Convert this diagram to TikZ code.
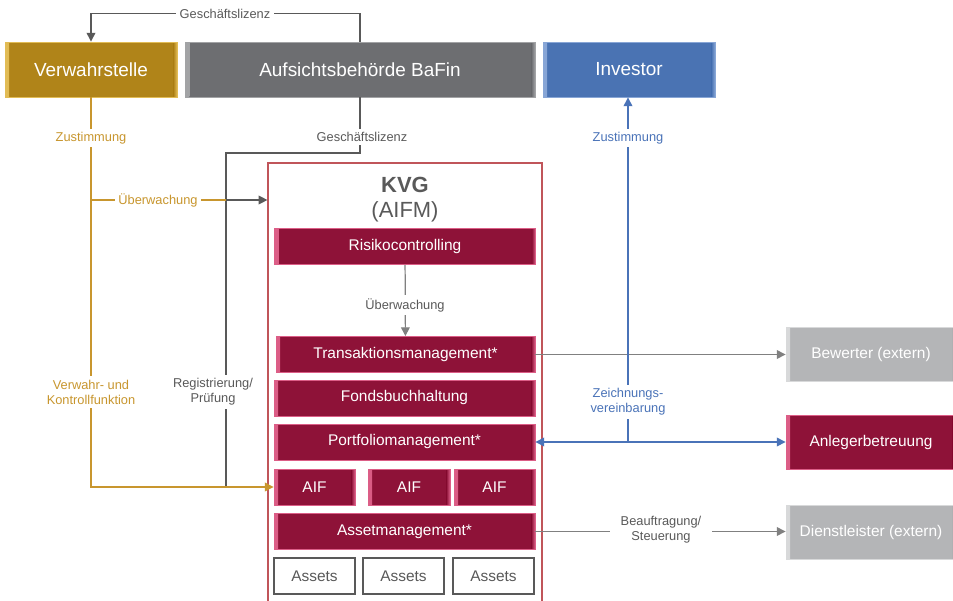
\documentclass[tikz,border=0pt]{standalone}
\usepackage{fontspec}
\setmainfont{Liberation Sans}
\usetikzlibrary{arrows.meta,calc,positioning}
\definecolor{vwgold}{HTML}{B08419}
\definecolor{vwgoldedge}{HTML}{E2BC55}
\definecolor{bafingray}{HTML}{6D6E71}
\definecolor{bafingrayedge}{HTML}{A2A3A5}
\definecolor{invblue}{HTML}{4A73B3}
\definecolor{invblueedge}{HTML}{88A6D6}
\definecolor{kvgred}{HTML}{8E1238}
\definecolor{kvgrededge}{HTML}{DC5E87}
\definecolor{extgray}{HTML}{B4B5B7}
\definecolor{extgrayedge}{HTML}{D8D9DA}
\definecolor{framered}{HTML}{C0555A}
\definecolor{goldtxt}{HTML}{C8962E}
\definecolor{darktxt}{HTML}{595959}
\definecolor{linegray}{HTML}{808080}
\definecolor{lineblue}{HTML}{4A73B8}
\tikzset{
  bevel/.style 2 args={fill=#1,draw=#2,line width=0.5pt,text=white,inner sep=0pt,
    path picture={
      \fill[left color=#2,right color=#1] (path picture bounding box.north west) rectangle ([xshift=2.4pt]path picture bounding box.south west);
      \fill[left color=#1,right color=#2] ([xshift=-2pt]path picture bounding box.north east) rectangle (path picture bounding box.south east);
    }},
  topbox/.style={bevel={#1}{#1edge},minimum height=1.1cm,font=\fontsize{10.8}{12}\selectfont},
  unitbox/.style={bevel={kvgred}{kvgrededge},minimum width=5.22cm,minimum height=0.72cm,font=\fontsize{8.8}{10}\selectfont},
  extbox/.style={bevel={#1}{#1edge},minimum width=3.4cm,minimum height=1.08cm,font=\fontsize{8.8}{10}\selectfont},
  assetbox/.style={draw=darktxt,line width=0.6pt,minimum width=1.62cm,minimum height=0.72cm,font=\fontsize{8.8}{10}\selectfont,text=darktxt},
  lbl/.style={fill=white,align=center,inner sep=2pt,font=\fontsize{7.3}{8.6}\selectfont,text=darktxt},
  goldline/.style={draw=goldtxt,line width=0.7pt},
  darkline/.style={draw=darktxt,line width=0.7pt},
  grayline/.style={draw=linegray,line width=0.7pt},
  blueline/.style={draw=lineblue,line width=0.7pt}
}

\begin{document}
\begin{tikzpicture}[x=0.02cm,y=-0.02cm,>={Triangle[length=5pt,width=5pt]}]
  \useasboundingbox (0,0) rectangle (953,601);
  % top row
  \node[topbox=vwgold,minimum width=3.44cm] (verw) at (91,69.5) {Verwahrstelle};
  \node[topbox=bafingray,minimum width=7cm] (bafin) at (360,69.5) {Aufsichtsbeh\"orde BaFin};
  \node[topbox=invblue,minimum width=3.44cm] (inv) at (629,69.5) {Investor};
  % KVG
  \node[draw=framered,line width=0.7pt,minimum width=5.48cm,minimum height=8.94cm] (kvg) at (405,386.5) {};
  \node[font=\bfseries\fontsize{12.5}{14}\selectfont,text=darktxt] (kvgname) at (405,185) {KVG};
  \node[font=\fontsize{12.5}{14}\selectfont,text=darktxt] (aifm) at (405,212) {(AIFM)};
  \node[unitbox] (risk) at (405,246.5) {Risikocontrolling};
  \node[unitbox,minimum width=5.18cm] (trans) at (405.5,354.5) {Transaktionsmanagement*};
  \node[unitbox] (fonds) at (404.5,398) {Fondsbuchhaltung};
  \node[unitbox] (portf) at (404.5,442) {Portfoliomanagement*};
  \node[unitbox,minimum width=1.62cm] (aif1) at (314.5,487) {AIF};
  \node[unitbox,minimum width=1.64cm] (aif2) at (409,487) {AIF};
  \node[unitbox,minimum width=1.62cm] (aif3) at (494.5,487) {AIF};
  \node[unitbox] (asset) at (404.5,531.5) {Assetmanagement*};
  \node[assetbox] (as1) at (314.5,576) {Assets};
  \node[assetbox] (as2) at (403.5,576) {Assets};
  \node[assetbox] (as3) at (493.5,576) {Assets};
  % external
  \node[extbox=extgray] (bew) at (871,354) {Bewerter (extern)};
  \node[extbox=kvgred] (anl) at (871,442.5) {Anlegerbetreuung};
  \node[extbox=extgray] (dienst) at (871,532) {Dienstleister (extern)};
  % connectors
  \coordinate (regtop) at (226,153);
  \coordinate (regmid) at (226,200);
  \coordinate (regbot) at (226,487);
  \coordinate (vwmid) at (91,200);
  \coordinate (vwbot) at (91,487);
  \coordinate (zv) at (628,442);
  \draw[darkline,->] (bafin.north) -- ++(0,-28) -| (verw.north);
  \draw[darkline] (bafin.south) |- (regtop) -- (regbot);
  \draw[goldline,->,goldtxt] (verw.south) -- (vwbot) -- (aif1.west);
  \draw[goldline] (vwmid) -- (regmid);
  \draw[darkline,->,darktxt] (regmid) -- (kvg.west |- regmid);
  \draw[grayline,->,linegray] (risk) -- (trans);
  \draw[grayline,->,linegray] (trans.east) -- (trans.east -| bew.west);
  \draw[grayline,->,linegray] (asset.east) -- (asset.east -| dienst.west);
  \draw[blueline,<->,lineblue] (portf.east) -- (portf.east -| anl.west);
  \draw[blueline,->,lineblue] (zv) -- (zv |- inv.south);
  % labels
  \node[lbl] (gl1) at (225,14) {Gesch\"aftslizenz};
  \node[lbl] (gl2) at (362,137) {Gesch\"aftslizenz};
  \node[lbl] (reg) at (213,392) {Registrierung/\\Pr\"ufung};
  \node[lbl,text=goldtxt] (zu1) at (91,138) {Zustimmung};
  \node[lbl,text=goldtxt] (ueb1) at (158,200) {\"Uberwachung};
  \node[lbl,text=goldtxt] (vk) at (91,392) {Verwahr- und\\Kontrollfunktion};
  \node[lbl] (ueb2) at (405,305) {\"Uberwachung};
  \node[lbl,text=lineblue] (zu2) at (628,138) {Zustimmung};
  \node[lbl,text=lineblue] (zeich) at (628,402) {Zeichnungs-\\vereinbarung};
  \node[lbl,inner xsep=6pt] (beauf) at (661,530) {Beauftragung/\\Steuerung};
\end{tikzpicture}
\end{document}
